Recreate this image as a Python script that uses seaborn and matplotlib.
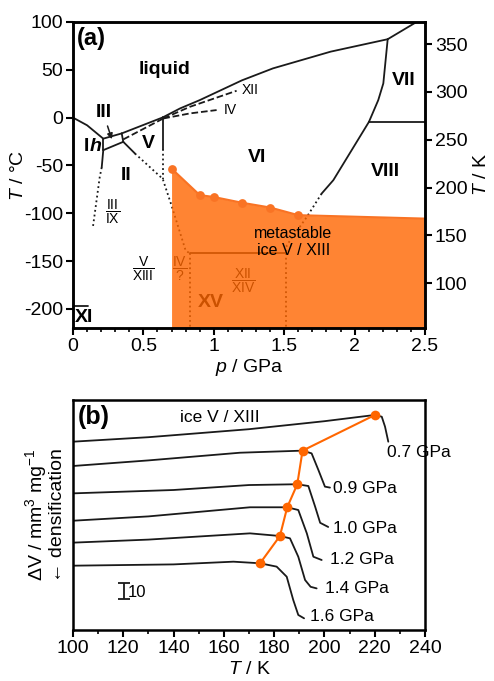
import numpy as np
import pandas as pd
import matplotlib
matplotlib.use("Agg")
import matplotlib.pyplot as plt
from matplotlib.ticker import MultipleLocator, FuncFormatter
import seaborn as sns

# ---------------- panel (a): phase diagram (p in GPa, T in degC) ----------------
melt_Ih_p = [0.0, 0.1, 0.215]
melt_Ih_T = [0.0, -8.0, -22.0]
melt_III_p = [0.215, 0.346]
melt_III_T = [-22.0, -16.5]
melt_V_p = [0.346, 0.637]
melt_V_T = [-16.5, 0.2]
melt_VI_p = [0.637, 0.76, 0.90, 1.20, 1.42, 1.83, 2.235]
melt_VI_T = [0.2, 9.6, 18.3, 39.0, 51.5, 69.0, 82.0]
melt_VII_p = [2.235, 2.44]
melt_VII_T = [82.0, 100.0]
Ih_III_p = [0.215, 0.215]
Ih_III_T = [-22.0, -34.0]
III_II_p = [0.215, 0.357]
III_II_T = [-34.0, -25.3]
III_V_p = [0.346, 0.357]
III_V_T = [-16.5, -25.3]
Ih_II_p = [0.215, 0.204]
Ih_II_T = [-34.0, -52.0]
Ih_II_dot_p = [0.204, 0.19, 0.14]
Ih_II_dot_T = [-52.0, -62.0, -116.0]
II_V_p = [0.357, 0.44]
II_V_T = [-25.3, -37.5]
II_V_dot_p = [0.44, 0.637, 0.70, 0.80, 0.83]
II_V_dot_T = [-37.5, -64.0, -92.0, -139.0, -142.0]
V_VI_p = [0.637, 0.637]
V_VI_T = [0.2, -33.0]
V_VI_dot_p = [0.637, 0.637]
V_VI_dot_T = [-33.0, -64.0]
VI_VII_p = [2.235, 2.204, 2.168, 2.102]
VI_VII_T = [82.0, 35.8, 18.3, -4.4]
VII_VIII_p = [2.102, 2.5]
VII_VIII_T = [-4.4, -4.4]
VI_VIII_p = [2.102, 1.849, 1.766]
VI_VIII_T = [-4.4, -65.4, -79.4]
VI_VIII_dot_p = [1.766, 1.66, 1.518, 1.515]
VI_VIII_dot_T = [-79.4, -104.0, -133.5, -142.0]
XV_top_p = [0.83, 1.515]
XV_top_T = [-142.0, -142.0]
XV_left_p = [0.83, 0.83]
XV_right_p = [1.515, 1.515]
XV_side_T = [-142.0, -220.0]
Ih_XI_p = [0.0, 0.11]
Ih_XI_T = [-197.0, -197.0]
meta_V_p = [0.357, 0.641]
meta_V_T = [-22.8, -0.9]
meta_XII_p = [0.641, 0.83, 1.162]
meta_XII_T = [-0.9, 11.3, 28.1]
meta_IV_p = [0.641, 0.83, 1.02]
meta_IV_T = [-0.9, 4.4, 7.9]

# metastable ice V/XIII region (onset of transformation)
onset_p = [0.70, 0.90, 1.00, 1.20, 1.40, 1.60]
onset_Tc = [-53.3, -81.0, -83.0, -89.0, -94.0, -102.0]
fill_p = [0.70, 0.90, 1.00, 1.20, 1.40, 1.60, 2.50]
fill_T = [-53.3, -81.0, -83.0, -89.0, -94.0, -102.0, -105.6]

# ---------------- panel (b): volume curves ----------------
T07 = [100, 130, 170, 200, 220.1, 222.8, 224.1, 225.4]
V07 = [117.7, 120.5, 125.5, 130.5, 134.4, 133.3, 127.1, 117.7]
T09 = [100, 130, 166.4, 191.3, 194.9, 197.6, 200.2, 202.2]
V09 = [102.5, 106.0, 110.8, 112.1, 110.4, 100.0, 89.6, 89.0]
T10 = [100, 140, 170, 189.2, 193.6, 196.3, 198.3, 201.5]
V10 = [85.4, 87.5, 90.6, 91.1, 90.0, 77.1, 67.0, 64.4]
T12 = [100, 130, 170.4, 185.2, 189.6, 193.0, 195.6, 198.9]
V12 = [68.3, 71.0, 76.7, 76.7, 75.0, 60.4, 45.8, 43.75]
T14 = [100, 130, 170.4, 182.3, 186.3, 189.6, 192.3, 194.5, 196.9]
V14 = [54.6, 56.5, 60.4, 58.75, 57.3, 45.8, 31.25, 27.0, 26.0]
T16 = [100, 140, 163.8, 174.4, 181.0, 185.0, 187.6, 189.6, 191.9]
V16 = [40.2, 41.0, 42.7, 41.7, 39.6, 33.3, 18.75, 9.4, 7.3]
pressures = ["0.7 GPa", "0.9 GPa", "1.0 GPa", "1.2 GPa", "1.4 GPa", "1.6 GPa"]
label_T = [224.7, 203.5, 203.5, 202.2, 200.2, 194.3]
label_V = [111.0, 88.5, 63.5, 43.75, 26.0, 8.3]
onset_T = [220.1, 191.3, 189.2, 185.2, 182.3, 174.4]
onset_V = [134.4, 112.1, 91.1, 76.7, 58.75, 41.7]
scale_T, scale_mid, scale_len = 120.3, 24.2, 10

# ---------------- style ----------------
sns.set_theme(style="ticks", rc={'axes.edgecolor': 'black', 'xtick.color': 'black',
                                 'ytick.color': 'black', 'text.color': 'black',
                                 'axes.labelcolor': 'black'})
plt.rcParams['font.family'] = ['Liberation Sans', 'DejaVu Sans']
plt.rcParams['mathtext.fontset'] = 'custom'
plt.rcParams['mathtext.rm'] = 'Liberation Sans'
plt.rcParams['mathtext.it'] = 'Liberation Sans:italic'
plt.rcParams['mathtext.bf'] = 'Liberation Sans:bold'
plt.rcParams['axes.unicode_minus'] = False

ORANGE = '#FF6600'
LINE_OR = '#F97324'

fig = plt.figure(figsize=(4.94, 6.81), dpi=100)
ax = fig.add_axes([73/494, 1-328/681, 352/494, 306/681])
axb = fig.add_axes([73/494, 1-630/681, 352/494, 230/681])

lw = 1.3
def seg(p, T, style='-', color='k', z=2):
    ax.plot(p, T, linestyle=style, color=color, lw=lw, zorder=z)

seg(melt_Ih_p, melt_Ih_T); seg(melt_III_p, melt_III_T); seg(melt_V_p, melt_V_T)
seg(melt_VI_p, melt_VI_T); seg(melt_VII_p, melt_VII_T)
seg(Ih_III_p, Ih_III_T); seg(III_II_p, III_II_T); seg(III_V_p, III_V_T)
seg(Ih_II_p, Ih_II_T); seg(Ih_II_dot_p, Ih_II_dot_T, ':')
seg(II_V_p, II_V_T); seg(II_V_dot_p, II_V_dot_T, ':')
seg(V_VI_p, V_VI_T); seg(V_VI_dot_p, V_VI_dot_T, ':')
seg(VI_VII_p, VI_VII_T); seg(VII_VIII_p, VII_VIII_T)
seg(VI_VIII_p, VI_VIII_T); seg(VI_VIII_dot_p, VI_VIII_dot_T, ':')
seg(XV_top_p, XV_top_T); seg(XV_left_p, XV_side_T, ':'); seg(XV_right_p, XV_side_T, ':')
seg(Ih_XI_p, Ih_XI_T)
seg(meta_V_p, meta_V_T, '--'); seg(meta_XII_p, meta_XII_T, '--'); seg(meta_IV_p, meta_IV_T, '--')

# labels
bold = dict(fontsize=14, fontweight='bold', ha='center', va='center', zorder=2)
ax.text(0.65, 50, 'liquid', **bold)
ax.text(0.22, 5, 'III', **bold)
ax.text(0.115, -30.6, 'I', fontsize=14, fontweight='bold', ha='right', va='center')
ax.text(0.115, -30.6, 'h', fontsize=14, fontweight='bold', style='italic', ha='left', va='center')
ax.text(0.535, -27, 'V', **bold)
ax.text(0.38, -61, 'II', **bold)
ax.text(1.31, -42, 'VI', **bold)
ax.text(2.35, 39, 'VII', **bold)
ax.text(2.22, -56, 'VIII', **bold)
ax.text(0.08, -208.6, 'XI', **bold)
ax.text(0.98, -193, 'XV', **bold)
ax.text(1.26, 28.8, 'XII', fontsize=10, ha='center', va='center')
ax.text(1.12, 7.9, 'IV', fontsize=10, ha='center', va='center')
frac = dict(fontsize=10, ha='center', va='center', zorder=2)
ax.text(0.28, -98.6, r'$\dfrac{\mathrm{III}}{\mathrm{IX}}$', **frac)
ax.text(0.50, -158.6, r'$\dfrac{\mathrm{V}}{\mathrm{XIII}}$', **frac)
ax.text(0.76, -158.6, r'$\dfrac{\mathrm{IV}}{\mathrm{?}}$', **frac)
ax.text(1.21, -170.7, r'$\dfrac{\mathrm{XII}}{\mathrm{XIV}}$', **frac)
ax.annotate('', xy=(0.282, -25.3), xytext=(0.239, -6),
            arrowprops=dict(arrowstyle='-|>', color='k', lw=1.1, mutation_scale=8))

# orange metastable region (semi-transparent, over the lines)
ax.fill_between(fill_p, fill_T, -220, color=ORANGE, alpha=0.8, lw=0, zorder=3)
ax.plot(fill_p, fill_T, color=LINE_OR, lw=1.5, zorder=4)
sns.scatterplot(x=onset_p, y=onset_Tc, color=LINE_OR, s=40, linewidth=0, zorder=4, ax=ax)
ax.text(1.565, -130, 'metastable\nice V / XIII', fontsize=11.5, ha='center', va='center',
        linespacing=1.1, zorder=5)
ax.text(0.011, 0.985, '(a)', transform=ax.transAxes, fontsize=17, fontweight='bold',
        ha='left', va='top')

ax.set_xlim(0, 2.5)
ax.set_ylim(-220, 100)
ax.xaxis.set_major_locator(MultipleLocator(0.5))
ax.xaxis.set_minor_locator(MultipleLocator(0.1))
ax.yaxis.set_major_locator(MultipleLocator(50))
ax.xaxis.set_major_formatter(FuncFormatter(lambda v, _: f'{v:g}'))
ax.tick_params(which='major', direction='out', length=5, width=1.5, labelsize=14, pad=2,
               top=False, right=False)
ax.tick_params(which='minor', direction='out', length=3, width=1.2, top=False)
ax.tick_params(axis='y', which='minor', left=False)
for s in ax.spines.values():
    s.set_linewidth(1.8); s.set_zorder(10); s.set_color('black')
ax.set_xlabel(r'$p$ / GPa', fontsize=14, labelpad=2)
ax.set_ylabel(r'$T$ / °C', fontsize=14)
ax.yaxis.set_label_coords(-0.13, 0.5)

ax2 = ax.twinx()
ax2.set_ylim(-220 + 273.15, 100 + 273.15)
ax2.set_yticks([100, 150, 200, 250, 300, 350])
ax2.tick_params(direction='out', length=5, width=1.5, labelsize=14, pad=2)
for s in ax2.spines.values():
    s.set_linewidth(1.8); s.set_color('black')
ax2.set_ylabel(r'$T$ / K', fontsize=14)

# ---------------- panel (b) ----------------
frames = []
for name, T, V in zip(pressures, [T07, T09, T10, T12, T14, T16], [V07, V09, V10, V12, V14, V16]):
    frames.append(pd.DataFrame({'T': T, 'dV': V, 'p': name}))
df = pd.concat(frames, ignore_index=True)
sns.lineplot(data=df, x='T', y='dV', units='p', estimator=None, sort=False,
             color='k', lw=1.3, ax=axb)
sns.lineplot(x=onset_T, y=onset_V, sort=False, color=ORANGE, lw=1.5, marker='o',
             markersize=7, markeredgewidth=0, ax=axb)
for name, tx, ty in zip(pressures, label_T, label_V):
    axb.text(tx, ty, name, fontsize=12.5, ha='left', va='center')
axb.text(158.5, 133.0, 'ice V / XIII', fontsize=12.5, ha='center', va='center')
axb.errorbar(scale_T, scale_mid, yerr=scale_len/2, color='k', capsize=4, lw=1.3, capthick=1.3)
axb.text(scale_T + 1.6, scale_mid - 1, f'{scale_len}', fontsize=12, ha='left', va='center')
axb.text(0.014, 0.98, '(b)', transform=axb.transAxes, fontsize=18, fontweight='bold',
         ha='left', va='top')

axb.set_xlim(100, 240)
axb.set_ylim(0, 143.75)
axb.xaxis.set_major_locator(MultipleLocator(20))
axb.xaxis.set_minor_locator(MultipleLocator(10))
axb.set_yticks([])
axb.tick_params(which='major', direction='out', length=5, width=1.5, labelsize=14, pad=2)
axb.tick_params(which='minor', direction='out', length=3, width=1.2)
for s in axb.spines.values():
    s.set_linewidth(1.8); s.set_color('black')
axb.set_xlabel(r'$T$ / K', fontsize=14, labelpad=3)
axb.set_ylabel('ΔV / mm$^3$ mg$^{-1}$\n← densification', fontsize=14, linespacing=1.0)
axb.yaxis.set_label_coords(-0.02, 0.5)

fig.savefig('out.png', dpi=100)
